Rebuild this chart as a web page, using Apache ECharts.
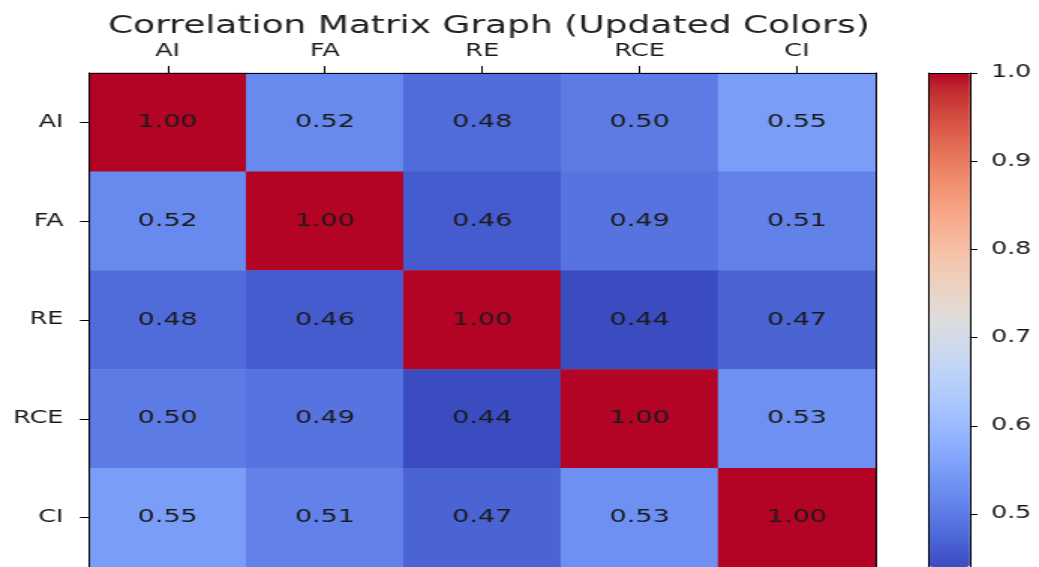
<!DOCTYPE html>
<html><head><meta charset="utf-8">
<script src="https://cdn.jsdelivr.net/npm/echarts@6/dist/echarts.min.js"></script>
<style>
html,body{margin:0;padding:0;background:#fff;overflow:hidden}
#wrap{width:1039px;height:567px;overflow:hidden}
#c{width:693px;height:567px;transform:scaleX(1.4993);transform-origin:0 0}
</style>
</head><body><div id="wrap"><div id="c"></div></div>
<script>
const categories = ['AI','FA','RE','RCE','CI'];
const rowAI  = [1.00,0.52,0.48,0.50,0.55];
const rowFA  = [0.52,1.00,0.46,0.49,0.51];
const rowRE  = [0.48,0.46,1.00,0.44,0.47];
const rowRCE = [0.50,0.49,0.44,1.00,0.53];
const rowCI  = [0.55,0.51,0.47,0.53,1.00];
const colorbarTicks = [0.5,0.6,0.7,0.8,0.9,1.0];
const colorMin = 0.44, colorMax = 1.0;
const titleText = 'Correlation Matrix Graph (Updated Colors)';

const coolwarm = [[59,76,192],[68,90,204],[77,104,215],[87,117,225],[98,130,234],[108,142,241],[119,154,247],[130,165,251],[141,176,254],[152,185,255],[163,194,255],[174,201,253],[184,208,249],[194,213,244],[204,217,238],[213,219,230],[221,221,221],[229,216,209],[236,211,197],[241,204,185],[245,196,173],[247,187,160],[247,177,148],[247,166,135],[244,154,123],[241,141,111],[236,127,99],[229,112,88],[222,96,77],[213,80,66],[203,62,56],[192,40,47],[180,4,38]].map(c=>`rgb(${c[0]},${c[1]},${c[2]})`);

const rows = [rowAI,rowFA,rowRE,rowRCE,rowCI];
const data = [];
rows.forEach((r,i)=>r.forEach((v,j)=>data.push([j,i,v])));

const font = 'DejaVu Sans';
const txt = '#1a1a1a';
const chart = echarts.init(document.getElementById('c'));
chart.setOption({
  animation:false,
  title:{text:titleText,left:321,textAlign:'center',top:10,textStyle:{fontFamily:font,fontSize:24,fontWeight:'normal',color:'#222'}},
  grid:[{left:59.3,top:73,width:524.7,height:494},{left:619.5,top:73,width:27.4,height:494}],
  xAxis:[
    {type:'category',data:categories,position:'top',gridIndex:0,z:10,
     axisLine:{show:true,lineStyle:{color:'#000',width:1}},
     axisTick:{show:true,alignWithLabel:true,length:7,lineStyle:{color:'#000'}},
     axisLabel:{fontFamily:font,fontSize:17,color:txt,margin:13},splitLine:{show:false}},
    {type:'value',gridIndex:1,min:0,max:1,position:'top',z:10,axisLine:{show:true,onZero:false,lineStyle:{color:'#000'}},axisTick:{show:false},axisLabel:{show:false},splitLine:{show:false}},
    {type:'value',gridIndex:1,min:0,max:1,position:'bottom',z:10,axisLine:{show:true,onZero:false,lineStyle:{color:'#000'}},axisTick:{show:false},axisLabel:{show:false},splitLine:{show:false}}
  ],
  yAxis:[
    {type:'category',data:categories,inverse:true,gridIndex:0,z:10,
     axisLine:{show:true,lineStyle:{color:'#000',width:1}},
     axisTick:{show:true,alignWithLabel:true,length:6,lineStyle:{color:'#000'}},
     axisLabel:{fontFamily:font,fontSize:17,color:txt,margin:17},splitLine:{show:false}},
    {type:'category',data:categories,inverse:true,gridIndex:0,position:'right',z:10,
     axisLine:{show:true,lineStyle:{color:'#000',width:1}},axisTick:{show:false},axisLabel:{show:false}},
    {type:'value',gridIndex:1,min:colorMin,max:colorMax,position:'right',z:10,
     axisLine:{show:true,onZero:false,lineStyle:{color:'#000'}},
     axisTick:{show:true,inside:false,length:5,customValues:colorbarTicks,lineStyle:{color:'#000'}},
     axisLabel:{show:true,inside:false,customValues:colorbarTicks,formatter:v=>v.toFixed(1),fontFamily:font,fontSize:17,color:txt,margin:14},
     splitLine:{show:false}},
    {type:'value',gridIndex:1,min:colorMin,max:colorMax,position:'left',z:10,
     axisLine:{show:true,onZero:false,lineStyle:{color:'#000'}},axisTick:{show:false},axisLabel:{show:false},splitLine:{show:false}}
  ],
  visualMap:{type:'continuous',min:colorMin,max:colorMax,seriesIndex:0,calculable:false,
    left:619.5,top:73,itemWidth:27.4,itemHeight:494,padding:0,text:null,showLabel:false,
    inRange:{color:coolwarm}},
  series:[{type:'heatmap',xAxisIndex:0,yAxisIndex:0,data:data,
    label:{show:true,formatter:p=>p.value[2].toFixed(2),fontFamily:font,fontSize:18,color:txt},
    itemStyle:{borderWidth:0}}]
});
</script></body></html>
